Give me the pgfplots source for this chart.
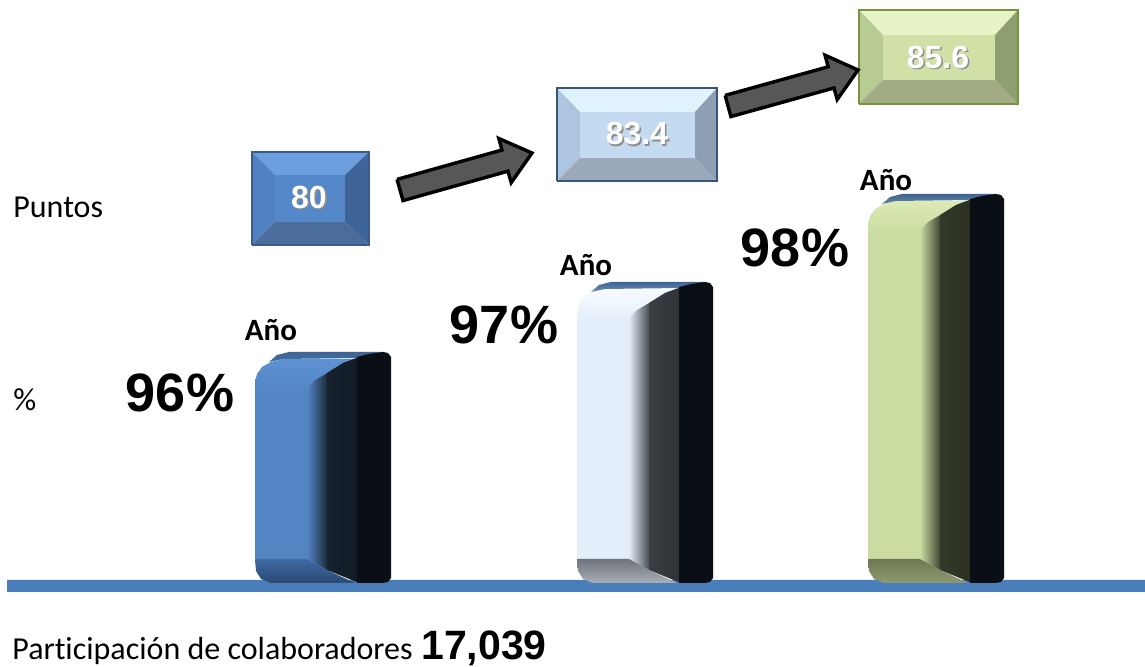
\documentclass[border=0pt]{standalone}
\usepackage{pgfplots}
\pgfplotsset{compat=1.18}
\usepackage{pgfplotstable}
\usepackage{fontspec}
\setmainfont{Carlito}[Ligatures=NoCommon]
\newfontfamily\arial{Liberation Sans}

\definecolor{baseblue}{HTML}{4A7EBB}
\definecolor{topedge}{HTML}{3D6494}
\definecolor{blackside}{HTML}{0A0E15}
\definecolor{arrowgray}{HTML}{575757}
% bar colours
\definecolor{barAF}{HTML}{5385C5}\definecolor{barAH}{HTML}{5F92D2}\definecolor{barAD}{HTML}{17222F}
\definecolor{barABT}{HTML}{3E69A3}\definecolor{barABB}{HTML}{2C4A72}
\definecolor{barBF}{HTML}{E3EEFA}\definecolor{barBH}{HTML}{F6FBFF}\definecolor{barBD}{HTML}{3A3D42}
\definecolor{barBBT}{HTML}{6E737B}\definecolor{barBBB}{HTML}{A9AFB7}
\definecolor{barCF}{HTML}{CADCA2}\definecolor{barCH}{HTML}{DCEAB6}\definecolor{barCD}{HTML}{343A28}
\definecolor{barCBT}{HTML}{6D7852}\definecolor{barCBB}{HTML}{8E9A70}
% box colours
\definecolor{boxAtop}{HTML}{6B9FE0}\definecolor{boxAleft}{HTML}{5082C2}\definecolor{boxAright}{HTML}{3F6598}
\definecolor{boxAbot}{HTML}{4A6D9B}\definecolor{boxAmid}{HTML}{5588C8}\definecolor{boxAborder}{HTML}{3B5C88}
\definecolor{boxBtop}{HTML}{E0F3FC}\definecolor{boxBleft}{HTML}{AEC5E0}\definecolor{boxBright}{HTML}{8E9FB4}
\definecolor{boxBbot}{HTML}{9BA9BB}\definecolor{boxBmid}{HTML}{C4DAF1}\definecolor{boxBborder}{HTML}{385679}
\definecolor{boxCtop}{HTML}{E7F5C6}\definecolor{boxCleft}{HTML}{B8CB93}\definecolor{boxCright}{HTML}{8FA070}
\definecolor{boxCbot}{HTML}{A1AC85}\definecolor{boxCmid}{HTML}{D0E0A6}\definecolor{boxCborder}{HTML}{76923C}

% bar shape pieces: dx, a (1 = measured from top, 0 = from bottom), d (pixel offset downward)
\pgfplotstableread{
dx a d
0 0 -20
0 1 30
52 1 30
52 0 -20
}\shpFront
\pgfplotstableread{
dx a d
0 1 30
2 1 22
7 1 15
16 1 10
28 1 7
100 1 7
74 1 20
60 1 28
52 1 36
52 1 40
0 1 40
}\shpHigh
\pgfplotstableread{
dx a d
52 1 36
60 1 28
74 1 20
74 0 -12
52 0 -24
}\shpGrad
\pgfplotstableread{
dx a d
72 1 21
88 1 11
104 1 5
104 0 0
72 0 -13
}\shpMid
\pgfplotstableread{
dx a d
0 0 -24
52 0 -24
74 0 -12
100 0 0
16 0 0
6 0 -4
1 0 -12
}\shpBottom
\pgfplotstableread{
dx a d
14 1 10
22 1 3
34 1 0
128 1 0
104 1 6
28 1 7
}\shpTop
\pgfplotstableread{
dx a d
102 1 5
114 1 2
128 1 0
133 1 1
136 1 5
136 0 -5
133 0 -1
128 0 0
102 0 0
}\shpBlack

% #1 left x, #2 top (image px), #3 colour prefix
\newcommand\drawbar[3]{%
\addplot[draw=none, fill=#3F] table[x expr=\thisrow{dx}+#1, y expr=667-(\thisrow{a}*#2+(1-\thisrow{a})*583+\thisrow{d})]{\shpFront};
\addplot[draw=none, top color=#3H, bottom color=#3F] table[x expr=\thisrow{dx}+#1, y expr=667-(\thisrow{a}*#2+(1-\thisrow{a})*583+\thisrow{d})]{\shpHigh};
\addplot[draw=none, left color=#3F, right color=#3D] table[x expr=\thisrow{dx}+#1, y expr=667-(\thisrow{a}*#2+(1-\thisrow{a})*583+\thisrow{d})]{\shpGrad};
\addplot[draw=none, left color=#3D, right color=#3D!80!black] table[x expr=\thisrow{dx}+#1, y expr=667-(\thisrow{a}*#2+(1-\thisrow{a})*583+\thisrow{d})]{\shpMid};
\addplot[draw=none, top color=#3BT, bottom color=#3BB] table[x expr=\thisrow{dx}+#1, y expr=667-(\thisrow{a}*#2+(1-\thisrow{a})*583+\thisrow{d})]{\shpBottom};
\addplot[draw=none, top color=topedge, bottom color=topedge!70!#3F] table[x expr=\thisrow{dx}+#1, y expr=667-(\thisrow{a}*#2+(1-\thisrow{a})*583+\thisrow{d})]{\shpTop};
\addplot[draw=none, fill=blackside] table[x expr=\thisrow{dx}+#1, y expr=667-(\thisrow{a}*#2+(1-\thisrow{a})*583+\thisrow{d})]{\shpBlack};
}

% #1 prefix, outer x0 y0 x1 y1, inner x0 y0 x1 y1
\newcommand\bevelbox[9]{%
\addplot[draw=none, fill=#1top] coordinates {(#2,#5) (#4,#5) (#8,#9) (#6,#9)};
\addplot[draw=none, fill=#1left] coordinates {(#2,#3) (#2,#5) (#6,#9) (#6,#7)};
\addplot[draw=none, fill=#1right] coordinates {(#4,#3) (#4,#5) (#8,#9) (#8,#7)};
\addplot[draw=none, fill=#1bot] coordinates {(#2,#3) (#4,#3) (#8,#7) (#6,#7)};
\addplot[draw=none, fill=#1mid] coordinates {(#6,#7) (#8,#7) (#8,#9) (#6,#9)};
\addplot[draw=#1border, line width=1.3pt, fill=none] coordinates {(#2,#3) (#4,#3) (#4,#5) (#2,#5) (#2,#3)};
}

\begin{document}
\begin{tikzpicture}
\begin{axis}[
  scale only axis, width=572.5pt, height=333.5pt,
  xmin=0, xmax=1145, ymin=0, ymax=667,
  axis lines=none, clip=false, no markers,
]
\coordinate (LL) at (rel axis cs:0,0);
\coordinate (UR) at (rel axis cs:1,1);
% base line
\addplot[draw=none, fill=baseblue] coordinates {(7,75) (1145,75) (1145,87) (7,87) (7,75)};

% bars (left x, top in image px)
\drawbar{255}{352}{barA}
\drawbar{577}{282}{barB}
\drawbar{868}{194}{barC}

% score boxes
\bevelbox{boxA}{252}{422}{369}{515}{275}{445}{345}{492}
\bevelbox{boxB}{557}{486}{717}{579}{580}{509}{695}{555}
\bevelbox{boxC}{859}{563}{1018}{657}{883}{587}{995}{632}

% arrows
\addplot[fill=arrowgray, draw=black, line width=1.7pt, line join=miter] coordinates {
(397.0,487.6) (502.0,517.0) (498.8,528.5) (532,514) (511.2,484.3) (508.0,495.8) (403.0,466.4) (397.0,487.6)};
\addplot[fill=arrowgray, draw=black, line width=1.7pt, line join=miter] coordinates {
(725.1,571.6) (828.2,600.2) (825.0,611.8) (858,597) (837.2,567.4) (834.0,579.0) (730.9,550.4) (725.1,571.6)};

% box values
\tikzset{boxval/.style={font=\arial\bfseries\fontsize{16}{18}\selectfont}}
\node[boxval, text=black!45] at (axis cs:310.5,468.5) {80};
\node[boxval, text=white] at (axis cs:309,470) {80};
\node[boxval, text=black!45] at (axis cs:638.5,531.5) {83.4};
\node[boxval, text=white] at (axis cs:637,533) {83.4};
\node[boxval, text=black!45] at (axis cs:939.5,608.5) {85.6};
\node[boxval, text=white] at (axis cs:938,610) {85.6};

% labels
\tikzset{lab/.style={font=\fontsize{16}{18}\selectfont, inner sep=0pt}}
\node[lab, anchor=west] at (axis cs:13,460) {Puntos};
\node[lab, anchor=west] at (axis cs:13,267) {\%};
\node[lab, font=\bfseries\fontsize{15.5}{18}\selectfont] at (axis cs:271,337) {Año};
\node[lab, font=\bfseries\fontsize{15.5}{18}\selectfont] at (axis cs:586,402) {Año};
\node[lab, font=\bfseries\fontsize{15.5}{18}\selectfont] at (axis cs:886,487) {Año};

\tikzset{pct/.style={font=\arial\bfseries\fontsize{27}{30}\selectfont, inner sep=0pt}}
\node[pct] at (axis cs:180,274) {96\%};
\node[pct] at (axis cs:504,342) {97\%};
\node[pct] at (axis cs:795,419) {98\%};

\node[lab, anchor=base west] at (axis cs:12,7) {Participación de colaboradores};
\node[inner sep=0pt, anchor=base west, font=\arial\bfseries\fontsize{20.5}{24}\selectfont] at (axis cs:421,7) {17,039};
\end{axis}
\pgfresetboundingbox
\useasboundingbox (LL) rectangle (UR);
\end{tikzpicture}
\end{document}
